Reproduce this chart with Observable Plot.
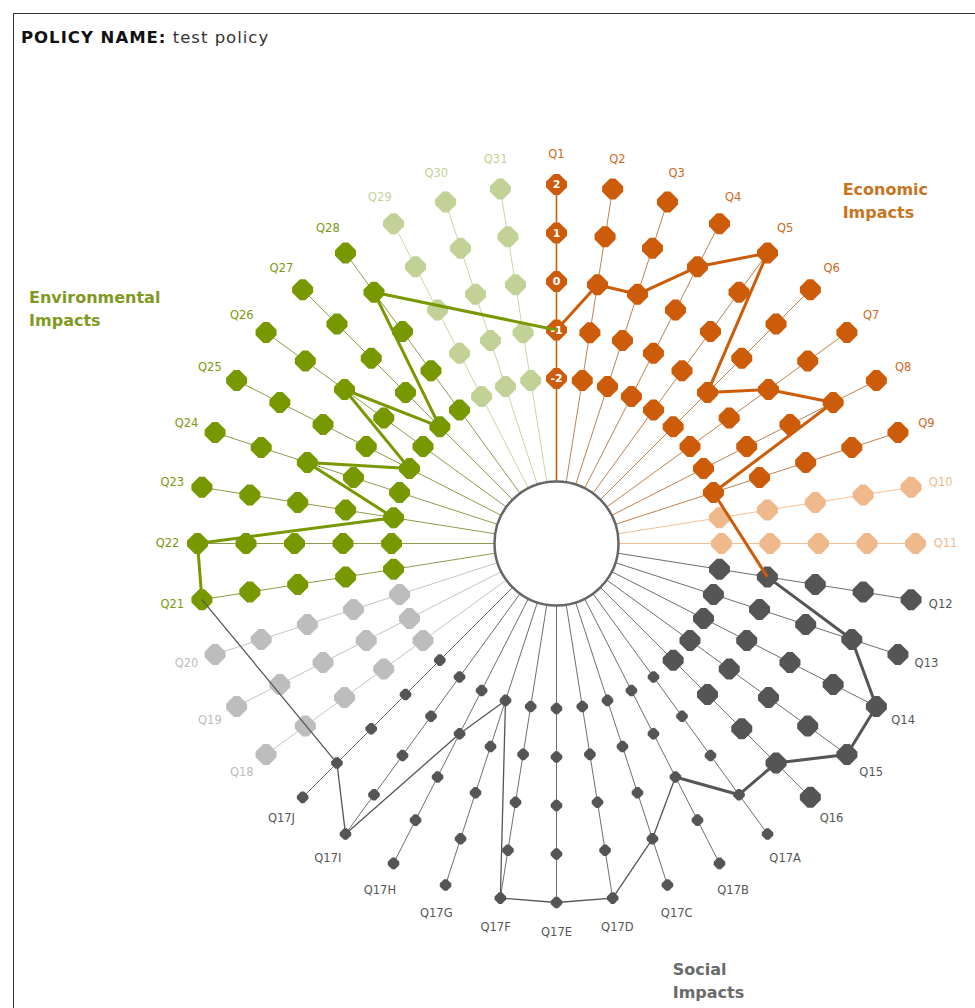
<!DOCTYPE html>
<html>
<head>
<meta charset="utf-8">
<script src="https://cdn.jsdelivr.net/npm/d3@7"></script>
<script src="https://cdn.jsdelivr.net/npm/@observablehq/plot@0.6"></script>
<style>
body{margin:0;background:#fff;font-family:"DejaVu Sans",Verdana,sans-serif;}
#wrap{position:relative;width:975px;height:1008px;overflow:hidden;background:#fff;}
#frame{position:absolute;left:13px;top:13px;width:1000px;height:1100px;border-left:1px solid #333;border-top:1px solid #333;}
#title{position:absolute;left:21px;top:28px;font-size:16.5px;letter-spacing:1px;color:#333;white-space:nowrap;}
#title b{color:#111;}
#chart{position:absolute;left:0;top:60px;}
g[aria-label="question labels"] text{letter-spacing:0.8px;}
g[aria-label="group labels"] text{letter-spacing:1.3px;}
</style>
</head>
<body>
<div id="wrap">
  <div id="frame"></div>
  <div id="title"><b>POLICY NAME:</b> test policy</div>
  <div id="chart"></div>
</div>
<script>
// ---- data ----
const questions = ["Q1","Q2","Q3","Q4","Q5","Q6","Q7","Q8","Q9","Q10","Q11",
  "Q12","Q13","Q14","Q15","Q16","Q17A","Q17B","Q17C","Q17D","Q17E","Q17F","Q17G","Q17H","Q17I","Q17J",
  "Q18","Q19","Q20","Q21","Q22","Q23","Q24","Q25","Q26","Q27","Q28","Q29","Q30","Q31"];
const economic = ["Q1","Q2","Q3","Q4","Q5","Q6","Q7","Q8","Q9","Q10","Q11"];
const social = ["Q12","Q13","Q14","Q15","Q16","Q17A","Q17B","Q17C","Q17D","Q17E","Q17F","Q17G","Q17H","Q17I","Q17J","Q18","Q19","Q20"];
const environmental = ["Q21","Q22","Q23","Q24","Q25","Q26","Q27","Q28","Q29","Q30","Q31"];
const inactive = ["Q10","Q11","Q18","Q19","Q20","Q29","Q30","Q31"];
const subQuestions = ["Q17A","Q17B","Q17C","Q17D","Q17E","Q17F","Q17G","Q17H","Q17I","Q17J"];
// selected answer per question (null = not answered)
const answers = [-1,0,0,1,2,-1,0,1,-2,null,null,
  -1,1,2,2,1,1,0,1,2,2,2,-2,-1,2,1,
  null,null,null,2,2,-2,0,-2,0,-2,1,null,null,null];
const scaleValues = [-2,-1,0,1,2];
const groupNames = ["Economic","Social","Environmental"];
const groupTitles = ["Economic\nImpacts","Social\nImpacts","Environmental\nImpacts"];

// ---- styles ----
const colors = {Economic:"#CC5C0A", Social:"#555555", Environmental:"#789800"};
const lightColors = {Economic:"#F0B98C", Social:"#BDBDBD", Environmental:"#C2D296"};
const labelColors = {Economic:"#CC6A1E", Social:"#555555", Environmental:"#7A9A10"};
const titleColors = {Economic:"#C8731E", Social:"#6A6A6A", Environmental:"#7F9A1E"};
const spokeColors = {Economic:"#B8733A", Social:"#5E5E5E", Environmental:"#7F8F3A"};

const step = 360 / questions.length;
const rScale = d3.scaleLinear().domain([-2, 2]).range([165, 359]);
const innerR = 62, labelR = 389;
const rad = Math.PI / 180;
const px = (deg, r) => r * Math.sin(deg * rad);
const py = (deg, r) => r * Math.cos(deg * rad);

const qs = questions.map((q, i) => {
  const group = economic.includes(q) ? "Economic" : social.includes(q) ? "Social" : "Environmental";
  const active = !inactive.includes(q);
  return {q, i, angle: i * step, group, active, sub: subQuestions.includes(q), answer: answers[i],
    color: active ? colors[group] : lightColors[group],
    spoke: i === 0 ? colors[group] : active ? spokeColors[group] : lightColors[group],
    labelColor: active ? labelColors[group] : lightColors[group]};
});

const points = qs.flatMap(d => scaleValues.map(v => ({...d, v, x: px(d.angle, rScale(v)), y: py(d.angle, rScale(v))})));

const answered = qs.filter(d => d.active && d.answer != null)
  .map(d => ({...d, x: px(d.angle, rScale(d.answer)), y: py(d.angle, rScale(d.answer))}));
const thinFrom = subQuestions.slice(1);
const segments = answered.map((d, k) => {
  const e = answered[(k + 1) % answered.length];
  return {x1: d.x, y1: d.y, x2: e.x, y2: e.y, color: colors[d.group], thin: thinFrom.includes(d.q)};
});

const octagon = {
  draw(ctx, size) {
    const r = Math.sqrt(size / Math.PI), a = r * 0.26;
    ctx.moveTo(-a, -r); ctx.lineTo(a, -r); ctx.lineTo(r, -a); ctx.lineTo(r, a);
    ctx.lineTo(a, r); ctx.lineTo(-a, r); ctx.lineTo(-r, a); ctx.lineTo(-r, -a); ctx.closePath();
  }
};

// group title placement (angle, radius)
const groupPos = {Economic: [43.8, 477], Social: [160.5, 462], Environmental: [297.4, 513]};
const groups = groupNames.map((g, i) => ({g, text: groupTitles[i], color: titleColors[g]}));
const groupOffset = {Economic: -44, Social: -38, Environmental: -72}; // left-align shift

const chart = Plot.plot({
  width: 975, height: 948, margin: 0,
  style: {fontFamily: "'DejaVu Sans', Verdana, sans-serif", background: "transparent"},
  x: {domain: [-556, 419], axis: null},
  y: {domain: [-465, 483], axis: null},
  color: {type: "identity"},
  marks: [
    Plot.link(qs, {
      x1: d => px(d.angle, innerR), y1: d => py(d.angle, innerR),
      x2: d => px(d.angle, rScale(2)), y2: d => py(d.angle, rScale(2)),
      stroke: "spoke", strokeWidth: d => d.i === 0 ? 1.6 : 0.9
    }),
    Plot.dot([0], {x: () => 0, y: () => 0, r: innerR, fill: "white", stroke: "#666", strokeWidth: 2.5}),
    Plot.dot(points.filter(d => !d.sub), {x: "x", y: "y", r: 10.5, fill: "color", symbol: octagon}),
    Plot.dot(points.filter(d => d.sub), {x: "x", y: "y", r: 5.8, fill: "color", symbol: octagon}),
    Plot.link(segments.filter(d => !d.thin), {x1: "x1", y1: "y1", x2: "x2", y2: "y2", stroke: "color", strokeWidth: 3}),
    Plot.link(segments.filter(d => d.thin), {x1: "x1", y1: "y1", x2: "x2", y2: "y2", stroke: "color", strokeWidth: 1.3}),
    Plot.text(points.filter(d => d.i === 0), {x: "x", y: "y", text: d => String(d.v), fill: "white", fontWeight: "bold", fontSize: 11}),
    Plot.text(qs, {
      x: d => px(d.angle, labelR), y: d => py(d.angle, labelR), text: "q",
      fill: "labelColor", fontSize: 11.5, ariaLabel: "question labels"
    }),
    Plot.text(groups, {
      x: d => px(...groupPos[d.g]) + groupOffset[d.g], y: d => py(...groupPos[d.g]),
      text: "text", fill: "color", fontSize: 16, fontWeight: "bold",
      textAnchor: "start", lineAnchor: "middle", lineHeight: 1.44, ariaLabel: "group labels"
    })
  ]
});
document.getElementById("chart").appendChild(chart);
</script>
</body>
</html>
